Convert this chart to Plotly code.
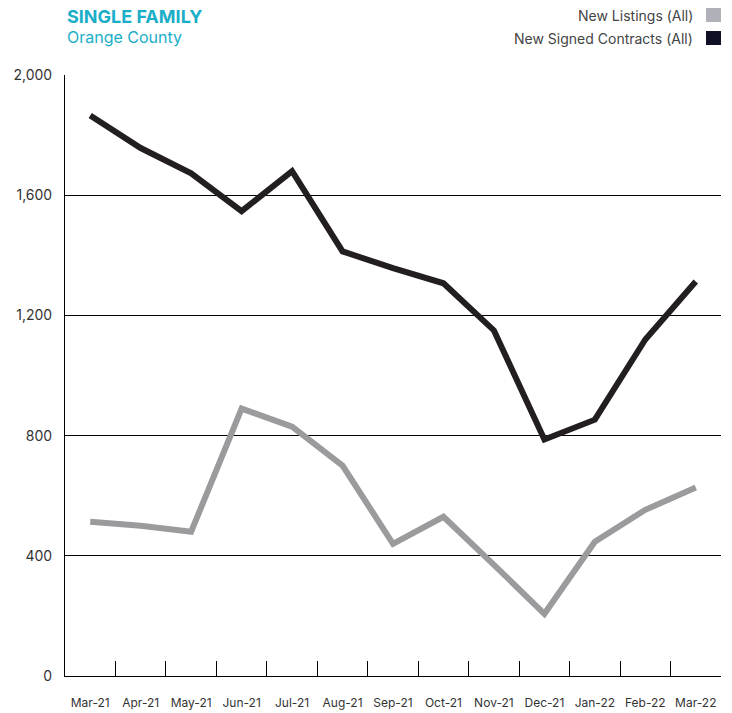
import plotly.graph_objects as go

months = ["Mar-21", "Apr-21", "May-21", "Jun-21", "Jul-21", "Aug-21", "Sep-21",
          "Oct-21", "Nov-21", "Dec-21", "Jan-22", "Feb-22", "Mar-22"]
new_listings = [513, 500, 480, 890, 830, 700, 440, 530, 370, 207, 447, 553, 627]
new_signed_contracts = [1865, 1757, 1673, 1547, 1680, 1413, 1357, 1307, 1150, 787, 853, 1120, 1313]
y_ticks = [0, 400, 800, 1200, 1600, 2000]

FONT = "Inter"
fig = go.Figure()
fig.add_trace(go.Scatter(x=months, y=new_listings, mode="lines", name="New Listings (All)",
                         line=dict(color="#9b9b9d", width=6), showlegend=False))
fig.add_trace(go.Scatter(x=months, y=new_signed_contracts, mode="lines", name="New Signed Contracts (All)",
                         line=dict(color="#231f20", width=6), showlegend=False))

fig.update_layout(
    width=732, height=713,
    margin=dict(l=65, r=11, t=75, b=37),
    plot_bgcolor="white", paper_bgcolor="white",
    font=dict(family=FONT, color="#333333"),
    xaxis=dict(type="category", tickson="boundaries", ticks="inside", ticklen=15,
               tickcolor="#000000", tickwidth=1, showline=True, linecolor="#000000",
               linewidth=1, showgrid=False, tickfont=dict(size=12, color="#333333"),
               ticklabelstandoff=16, range=[-0.5, 12.5], automargin=False),
    yaxis=dict(range=[0, 2000], tickvals=y_ticks, tickformat=",", showgrid=True,
               gridcolor="#000000", gridwidth=1, showline=True, linecolor="#000000",
               linewidth=1, zeroline=False, ticks="", tickfont=dict(size=14, color="#333333"),
               ticklabelstandoff=9, automargin=False),
)

fig.add_annotation(xref="paper", yref="paper", x=0, y=1, xanchor="left", yanchor="bottom",
                   yshift=46, text="<b>SINGLE FAMILY</b>", showarrow=False,
                   font=dict(size=18, color="#1aaec8", family=FONT))
fig.add_annotation(xref="paper", yref="paper", x=0, y=1, xanchor="left", yanchor="bottom",
                   yshift=26, text="Orange County", showarrow=False,
                   font=dict(size=16, color="#1aaec8", family=FONT))

legend_items = [("New Listings (All)", "#b0b0b8", 60), ("New Signed Contracts (All)", "#0f0f25", 37)]
for label, color, ys in legend_items:
    fig.add_annotation(xref="paper", yref="paper", x=1, y=1, xanchor="right", yanchor="middle",
                       xshift=-26, yshift=ys, text=label, showarrow=False,
                       font=dict(size=14, color="#444444", family=FONT))
for i, (label, color, ys) in enumerate(legend_items):
    yc = 15 + i * 23
    fig.add_shape(type="rect", xref="paper", yref="paper",
                  x0=1 - 15 / 656, x1=1, y0=1 + (75 - yc - 7) / 601, y1=1 + (75 - yc + 7) / 601,
                  fillcolor=color, line=dict(width=0))

fig.write_html("out.html")
